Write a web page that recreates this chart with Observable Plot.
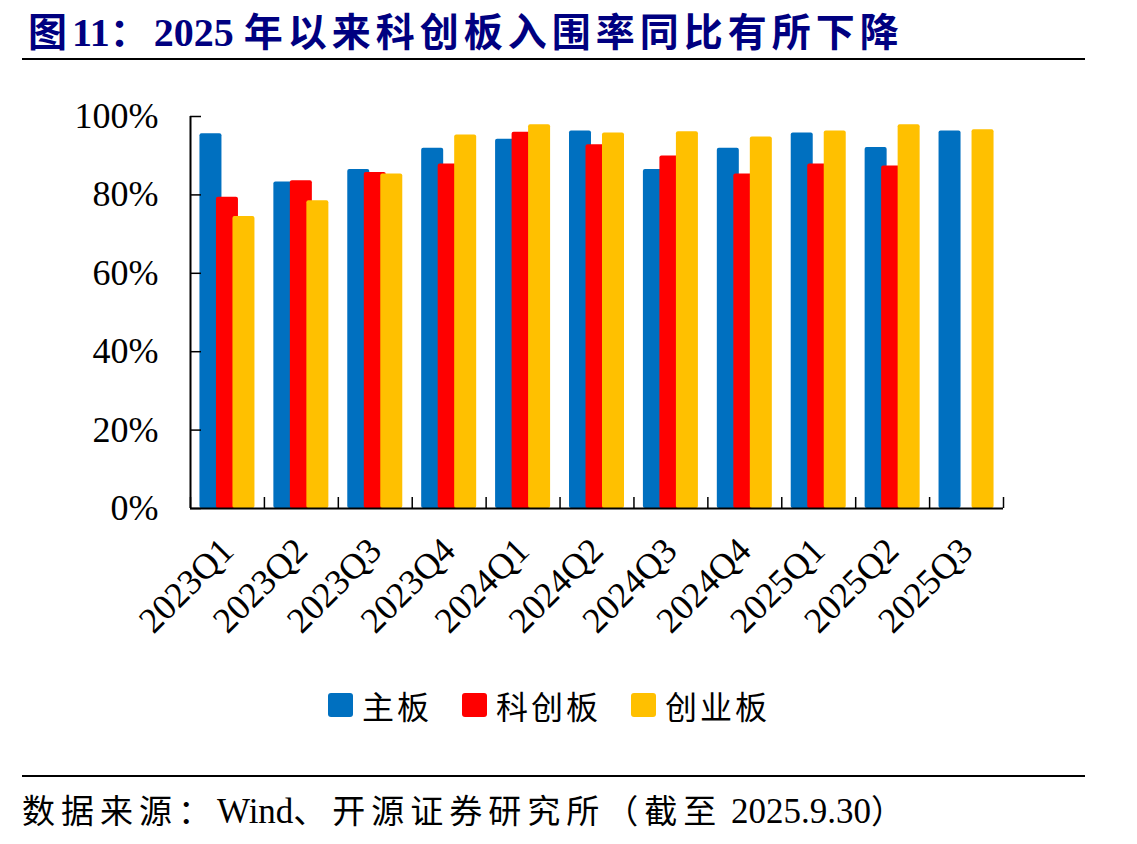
<!DOCTYPE html>
<html>
<head>
<meta charset="utf-8">
<script src="https://cdn.jsdelivr.net/npm/d3@7"></script>
<script src="https://cdn.jsdelivr.net/npm/@observablehq/plot@0.6"></script>
<style>
  html, body { margin: 0; padding: 0; background: #fff; }
  #page { position: relative; width: 1137px; height: 844px; overflow: hidden; }
  #title { position: absolute; left: 28px; top: 0px; color: #000080; font-weight: bold; white-space: nowrap; line-height: 58px; height: 58px; }
  #title .lat { font-size: 40px; font-family: "Liberation Serif", serif; }
  #title .cjk { font-size: 39px; font-family: "Noto Sans CJK SC", sans-serif; letter-spacing: 5px; }
  .rule { position: absolute; left: 22px; width: 1063px; height: 2px; background: #000; }
  #chart { position: absolute; left: 0; top: 60px; }
  #legend { position: absolute; top: 682px; left: 328px; display: flex; align-items: center; gap: 30px; }
  .item { display: flex; align-items: center; font-family: "Noto Sans CJK SC", sans-serif; font-size: 32px; letter-spacing: 3px; color: #000; }
  .sw { width: 25px; height: 24px; border-radius: 3px; margin-right: 9px; }
  #source { position: absolute; left: 22px; top: 784px; white-space: nowrap; color: #000; line-height: 50px; }
  #source .cjk { font-family: "Noto Sans CJK SC", sans-serif; font-size: 33px; letter-spacing: 6px; }
  #source .lat { font-family: "Liberation Serif", serif; font-size: 35px; }
</style>
</head>
<body>
<div id="page">
  <div id="title"><span class="cjk">图</span><span class="lat">11</span><span class="cjk">：</span><span class="lat">2025 </span><span class="cjk">年以来科创板入围率同比有所下降</span></div>
  <div class="rule" style="top:58px"></div>
  <div id="chart"></div>
  <div id="legend"></div>
  <div class="rule" style="top:775px"></div>
  <div id="source"><span class="cjk">数据来源：</span><span class="lat">Wind</span><span class="cjk">、开源证券研究所（截至</span><span class="lat"> 2025.9.30</span><span class="cjk">）</span></div>
</div>
<script>
// Quarterly inclusion rates by board (%)
const quarters = ["2023Q1","2023Q2","2023Q3","2023Q4","2024Q1","2024Q2","2024Q3","2024Q4","2025Q1","2025Q2","2025Q3"];
const mainBoard = [95.6, 83.3, 86.5, 91.9, 94.2, 96.3, 86.5, 91.9, 95.8, 92.1, 96.3];
const starMarket = [79.4, 83.6, 85.7, 87.9, 96.0, 92.8, 89.9, 85.3, 87.9, 87.4, null];
const chiNext = [74.5, 78.5, 85.3, 95.3, 97.9, 95.8, 96.1, 94.8, 96.3, 97.9, 96.6];

const seriesNames = ["主板", "科创板", "创业板"];
const seriesColors = ["#0070C0", "#FF0000", "#FFC000"];
const yTicks = [0, 20, 40, 60, 80, 100];

const seriesValues = [mainBoard, starMarket, chiNext];
const rows = seriesValues.map((vals, i) =>
  quarters.map((q, j) => ({quarter: q, series: seriesNames[i], value: vals[j]})).filter(d => d.value != null)
);

const W = 1137, H = 620;
const mL = 190, mR = 134, mT = 56, mB = 172;
const band = (W - mL - mR) / quarters.length;
const barW = 22;
const inset = (band - barW) / 2;
const offsets = [-16.5, 0, 16.5];

const bars = rows.map((data, i) =>
  Plot.barY(data, {
    x: "quarter", y: "value", fill: seriesColors[i],
    insetLeft: inset, insetRight: inset, dx: offsets[i], rx: 2
  })
);

const chart = Plot.plot({
  width: W, height: H,
  marginLeft: mL, marginRight: mR, marginTop: mT, marginBottom: mB,
  style: {fontFamily: "Liberation Serif, serif", color: "#000", background: "transparent"},
  x: {domain: quarters, padding: 0, round: false},
  y: {domain: [0, 100]},
  marks: [
    ...bars,
    Plot.ruleY([0], {stroke: "#000", strokeWidth: 2}),
    // group separators along the baseline
    Plot.ruleX(quarters, {x: d => d, y1: 0, y2: 2.8, dx: -band / 2, stroke: "#000", strokeWidth: 1.5}),
    Plot.ruleX([quarters[quarters.length - 1]], {x: d => d, y1: 0, y2: 2.8, dx: band / 2, stroke: "#000", strokeWidth: 1.5}),
    // vertical axis line and inward ticks
    Plot.ruleX([quarters[0]], {x: d => d, y1: 0, y2: 100, dx: -band / 2, stroke: "#000", strokeWidth: 2}),
    Plot.tickY(yTicks, {y: d => d, x: () => quarters[0], insetRight: band - 11, stroke: "#000", strokeWidth: 1.5}),
    Plot.axisY({ticks: yTicks, tickFormat: d => d + "%", tickSize: 0, tickPadding: 32, fontSize: 36, label: null}),
    Plot.axisX({tickSize: 0, tickRotate: -45, tickPadding: 36, fontSize: 36, label: null})
  ]
});
document.getElementById("chart").appendChild(chart);

// legend
const legend = document.getElementById("legend");
seriesNames.forEach((name, i) => {
  const item = document.createElement("div");
  item.className = "item";
  const sw = document.createElement("div");
  sw.className = "sw";
  sw.style.background = seriesColors[i];
  const label = document.createElement("span");
  label.textContent = name;
  item.appendChild(sw);
  item.appendChild(label);
  legend.appendChild(item);
});
</script>
</body>
</html>
